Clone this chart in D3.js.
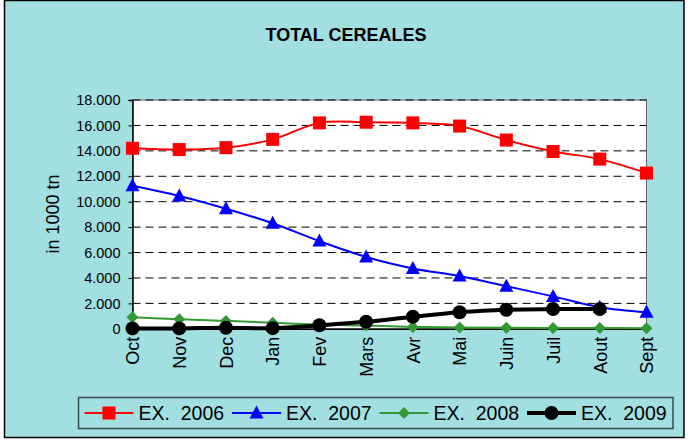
<!DOCTYPE html>
<meta charset="utf-8">
<style>
  body { margin: 0; background: #fff; }
  svg text { font-family: Arial, "Liberation Sans", sans-serif; fill: #000; }
</style>
<body>
<svg width="688" height="440"></svg>
<script src="https://cdn.jsdelivr.net/npm/d3@7"></script>
<script>
  var months = ['Oct', 'Nov', 'Dec', 'Jan', 'Fev', 'Mars', 'Avr', 'Mai', 'Juin', 'Juil', 'Aout', 'Sept'];
  var ex2006 = [14200, 14100, 14250, 14900, 16200, 16250, 16200, 15950, 14850, 13950, 13350, 12250];
  var ex2007 = [11250, 10450, 9450, 8300, 6900, 5650, 4750, 4150, 3350, 2550, 1700, 1300];
  var ex2008 = [900, 750, 620, 480, 330, 250, 150, 110, 90, 70, 60, 50];
  var ex2009 = [30, 30, 80, 50, 280, 550, 950, 1300, 1500, 1550, 1550, null];
  var yTicks = [0, 2000, 4000, 6000, 8000, 10000, 12000, 14000, 16000, 18000];

  var series = [
    {name: 'EX.  2006', values: ex2006, color: '#ff0000', width: 2, marker: 'square'},
    {name: 'EX.  2007', values: ex2007, color: '#0000ff', width: 2, marker: 'triangle'},
    {name: 'EX.  2008', values: ex2008, color: '#339933', width: 2, marker: 'diamond'},
    {name: 'EX.  2009', values: ex2009, color: '#000000', width: 4, marker: 'circle'}
  ];

  var svg = d3.select('svg');

  // chart area background + outer frame
  svg.append('rect')
    .attr('x', 4.5).attr('y', 0.5)
    .attr('width', 679.5).attr('height', 437)
    .attr('fill', '#a2dfe0')
    .attr('stroke', '#000').attr('stroke-width', 1.5);

  svg.append('text')
    .attr('x', 346).attr('y', 41)
    .attr('text-anchor', 'middle')
    .style('font-size', '18px').style('font-weight', 'bold')
    .text('TOTAL CEREALES');

  var pLeft = 132.5, pRight = 646.5, pTop = 100, pBottom = 328.8;
  var x = d3.scalePoint().domain(months).range([pLeft, pRight]);
  var y = d3.scaleLinear().domain([0, 18000]).range([pBottom, pTop]);

  // plot area
  svg.append('rect')
    .attr('x', pLeft).attr('y', pTop)
    .attr('width', pRight - pLeft).attr('height', pBottom - pTop)
    .attr('fill', '#fff')
    .attr('stroke', '#666').attr('stroke-width', 1);

  // gridlines
  svg.append('g').selectAll('line')
    .data(yTicks.filter(function (d) { return d > 0; }))
    .enter().append('line')
    .attr('x1', pLeft).attr('x2', pRight)
    .attr('y1', function (d) { return y(d); })
    .attr('y2', function (d) { return y(d); })
    .attr('stroke', '#000')
    .attr('stroke-width', 1)
    .attr('stroke-dasharray', '8,5');

  var fr = d3.formatLocale({decimal: ',', thousands: '.', grouping: [3], currency: ['', '']});
  var fmt = fr.format(',');

  var yAxis = svg.append('g')
    .attr('transform', 'translate(' + pLeft + ',0)')
    .call(d3.axisLeft(y).tickValues(yTicks).tickFormat(fmt).tickSize(4).tickPadding(8));
  yAxis.select('.domain').attr('stroke', '#000').attr('stroke-width', 1.5);
  yAxis.selectAll('text').style('font-size', '14.5px').attr('font-family', null);

  var xAxis = svg.append('g')
    .attr('transform', 'translate(0,' + pBottom + ')')
    .call(d3.axisBottom(x).tickSize(0).tickSizeOuter(0));
  xAxis.select('.domain').attr('stroke', '#000').attr('stroke-width', 1.5);
  xAxis.selectAll('text')
    .attr('font-family', null)
    .style('font-size', '18px')
    .attr('text-anchor', 'end')
    .attr('transform', 'rotate(-90)')
    .attr('x', -8).attr('y', 0).attr('dy', '0.35em');

  svg.append('text')
    .attr('transform', 'translate(59,214) rotate(-90)')
    .attr('text-anchor', 'middle')
    .style('font-size', '18px')
    .text('in 1000 tn');

  function drawMarker(sel, type, color, cx, cy) {
    if (type === 'square') {
      sel.append('rect').attr('x', cx - 6.5).attr('y', cy - 6.5).attr('width', 13).attr('height', 13)
        .attr('fill', color);
    } else if (type === 'triangle') {
      sel.append('path').attr('d', 'M' + cx + ',' + (cy - 7.5) + 'L' + (cx + 7) + ',' + (cy + 5.5) + 'L' + (cx - 7) + ',' + (cy + 5.5) + 'Z')
        .attr('fill', color);
    } else if (type === 'diamond') {
      sel.append('path').attr('d', 'M' + cx + ',' + (cy - 6) + 'L' + (cx + 6) + ',' + cy + 'L' + cx + ',' + (cy + 6) + 'L' + (cx - 6) + ',' + cy + 'Z')
        .attr('fill', color);
    } else {
      sel.append('circle').attr('cx', cx).attr('cy', cy).attr('r', 7).attr('fill', color);
    }
  }

  var line = d3.line()
    .defined(function (d) { return d.v !== null; })
    .curve(d3.curveCatmullRom.alpha(0.5))
    .x(function (d) { return x(d.m); })
    .y(function (d) { return y(d.v); });

  series.forEach(function (s) {
    var pts = months.map(function (m, i) { return {m: m, v: s.values[i]}; });
    var g = svg.append('g');
    g.append('path')
      .attr('d', line(pts))
      .attr('fill', 'none')
      .attr('stroke', s.color)
      .attr('stroke-width', s.width);
    pts.forEach(function (p) {
      if (p.v === null) return;
      drawMarker(g, s.marker, s.color, x(p.m), y(p.v));
    });
  });

  // legend
  var legend = svg.append('g');
  legend.append('rect')
    .attr('x', 78.5).attr('y', 397.5)
    .attr('width', 594.5).attr('height', 31)
    .attr('fill', 'none')
    .attr('stroke', '#3a4a4a').attr('stroke-width', 1.5);

  series.forEach(function (s, i) {
    var lx = 84.5 + i * 147.5, ly = 413;
    legend.append('line')
      .attr('x1', lx).attr('x2', lx + 49)
      .attr('y1', ly).attr('y2', ly)
      .attr('stroke', s.color).attr('stroke-width', s.width);
    drawMarker(legend, s.marker, s.color, lx + 24.5, ly);
    legend.append('text')
      .attr('x', lx + 54).attr('y', ly + 7)
      .style('font-size', '19.5px')
      .style('white-space', 'pre')
      .text(s.name);
  });
</script>
</body>
